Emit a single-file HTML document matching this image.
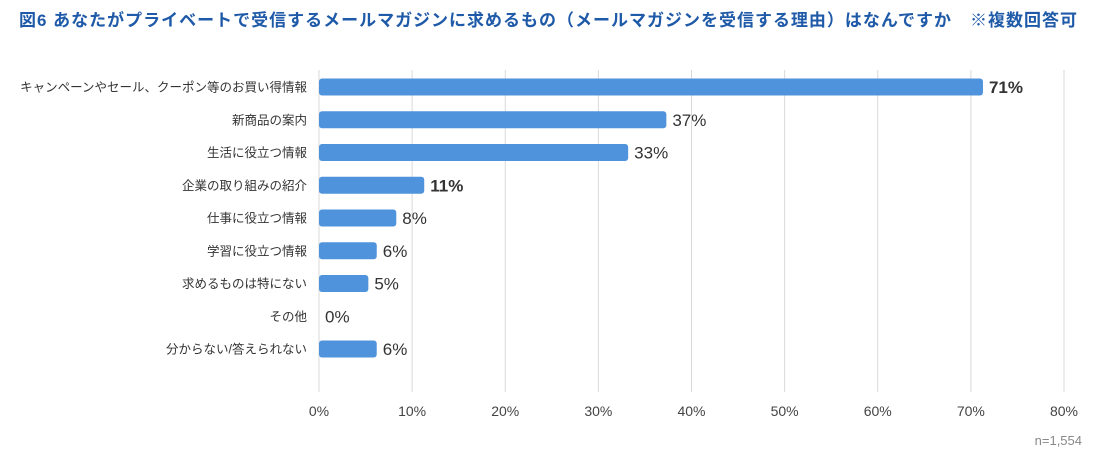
<!DOCTYPE html>
<html><head><meta charset="utf-8"><style>
body{margin:0;background:#fff;width:1096px;height:461px;overflow:hidden;font-family:"Liberation Sans","Noto Sans CJK JP",sans-serif}
</style></head><body>
<svg width="1096" height="461" xmlns="http://www.w3.org/2000/svg">
<text x="19" y="26" font-size="17" font-weight="bold" fill="#1f5aa8" textLength="1058" lengthAdjust="spacing" font-family="Liberation Sans, Noto Sans CJK JP, sans-serif">図6  あなたがプライベートで受信するメールマガジンに求めるもの（メールマガジンを受信する理由）はなんですか　※複数回答可</text>
<g id="grid"></g><g id="bars"></g>
<text x="1082" y="445" font-size="13" fill="#888" text-anchor="end">n=1,554</text>
</svg>
<script>
const categories=["キャンペーンやセール、クーポン等のお買い得情報","新商品の案内","生活に役立つ情報","企業の取り組みの紹介","仕事に役立つ情報","学習に役立つ情報","求めるものは特にない","その他","分からない/答えられない"];
const values=[71.3,37.3,33.2,11.3,8.3,6.2,5.3,0,6.2];
const valueLabels=["71%","37%","33%","11%","8%","6%","5%","0%","6%"];
const boldLabels=[true,false,false,true,false,false,false,false,false];
const ticks=[0,10,20,30,40,50,60,70,80];
const NS="http://www.w3.org/2000/svg";
const x=v=>319+v*(1064-319)/80;
const y=i=>87+i*32.75;
const g=document.getElementById("grid"),b=document.getElementById("bars");
function mk(t,a,p){const e=document.createElementNS(NS,t);for(const k in a)e.setAttribute(k,a[k]);p.appendChild(e);return e;}
ticks.forEach(t=>{
 const l=mk("line",{x1:x(t),x2:x(t),y1:70,y2:392,stroke:"#d9d9d9","stroke-width":1},g);
 
 
 const tx=mk("text",{x:x(t),y:416,"font-size":14,fill:"#444","text-anchor":"middle"},g);
 tx.textContent=t+"%";
 
 
});
categories.forEach((c,i)=>{
 const cy=y(i);
 const lab=mk("text",{x:307,y:cy+4.5,"font-size":12.5,fill:"#333","text-anchor":"end"},b);
 lab.textContent=c;
 
 
 if(values[i]>0){
  const r=mk("rect",{x:x(0),y:cy-8.5,width:x(values[i])-x(0),height:17,rx:3,fill:"#4f93dc"},b);
  
  
 }
 const v=mk("text",{x:x(values[i])+6,y:cy+6,"font-size":17,fill:"#333","font-weight":boldLabels[i]?"bold":"normal"},b);
 v.textContent=valueLabels[i];
 
 
});
</script>
</body></html>
